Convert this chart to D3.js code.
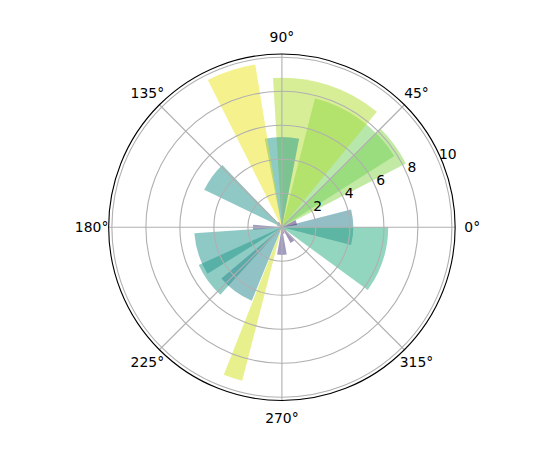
<!DOCTYPE html>
<html>
<head>
<meta charset="utf-8">
<script src="https://cdn.jsdelivr.net/npm/d3@7"></script>
<style>
  html, body { margin: 0; padding: 0; background: #fff; }
  svg { display: block; }
  text { font-family: "DejaVu Sans", sans-serif; font-size: 13.9px; fill: #000; }
</style>
</head>
<body>
<svg id="chart" width="550" height="450"></svg>
<script>
// Bar centres (degrees), radii and widths (degrees)
const thetaDeg = [0, 18, 36, 54, 72, 90, 108, 126, 144, 162, 180, 198, 216, 234, 252, 270, 288, 306, 324, 342];
const radii    = [4.2, 0.9, 8.2, 7.83, 8.8, 5.3, 9.7, 0.35, 5.07, 0.3, 1.7, 5.16, 5.37, 4.67, 9.33, 1.63, 0.4, 1.06, 0.3, 6.25];
const widthDeg = [28.8, 20, 17.6, 43.2, 42.8, 22, 17.4, 12, 20.6, 10, 10, 28, 23.2, 27.4, 7, 20, 10, 15, 10, 36.3];

const angleTicks = [0, 45, 90, 135, 180, 225, 270, 315];
const angleTickLabels = ["0°", "45°", "90°", "135°", "180°", "225°", "270°", "315°"];
const radialTicks = [2, 4, 6, 8, 10];
const radialTickLabels = ["2", "4", "6", "8", "10"];
const rMax = 10.19;

const cx = 281.9, cy = 227.25, R = 173.25;
const svg = d3.select("#chart");
const g = svg.append("g").attr("transform", `translate(${cx},${cy})`);

const r = d3.scaleLinear().domain([0, rMax]).range([0, R]);
const rad = d => d * Math.PI / 180;

// Bars
const bars = thetaDeg.map((t, i) => ({ t, r: radii[i], w: widthDeg[i] }));
const arc = d3.arc()
  .innerRadius(0)
  .outerRadius(d => r(d.r))
  .startAngle(d => Math.PI / 2 - rad(d.t + d.w / 2))
  .endAngle(d => Math.PI / 2 - rad(d.t - d.w / 2));

g.selectAll("path.bar").data(bars).enter().append("path")
  .attr("class", "bar")
  .attr("d", arc)
  .attr("fill", d => d3.interpolateViridis(d.r / 10))
  .attr("fill-opacity", 0.5);

// Grid (drawn above bars as in matplotlib)
const gridColor = "#b0b0b0", gridW = 1.11;
g.selectAll("circle.grid").data(radialTicks).enter().append("circle")
  .attr("r", d => r(d)).attr("fill", "none")
  .attr("stroke", gridColor).attr("stroke-width", gridW);
g.selectAll("line.grid").data(angleTicks).enter().append("line")
  .attr("x1", 0).attr("y1", 0)
  .attr("x2", d => R * Math.cos(rad(d)))
  .attr("y2", d => -R * Math.sin(rad(d)))
  .attr("stroke", gridColor).attr("stroke-width", gridW);

// Spine
g.append("circle").attr("r", R).attr("fill", "none")
  .attr("stroke", "#000").attr("stroke-width", 1.11);

// Angular tick labels
const labR = 190.3;
g.selectAll("text.ang").data(angleTicks).enter().append("text")
  .attr("text-anchor", "middle")
  .attr("x", d => labR * Math.cos(rad(d)))
  .attr("y", d => -labR * Math.sin(rad(d)) + 5)
  .text((d, i) => angleTickLabels[i]);

// Radial tick labels at 22.5°
const la = rad(22.5);
g.selectAll("text.rad").data(radialTicks).enter().append("text")
  .attr("text-anchor", "start")
  .attr("x", d => r(d) * Math.cos(la))
  .attr("y", d => -r(d) * Math.sin(la) - 3)
  .text((d, i) => radialTickLabels[i]);
</script>
</body>
</html>
